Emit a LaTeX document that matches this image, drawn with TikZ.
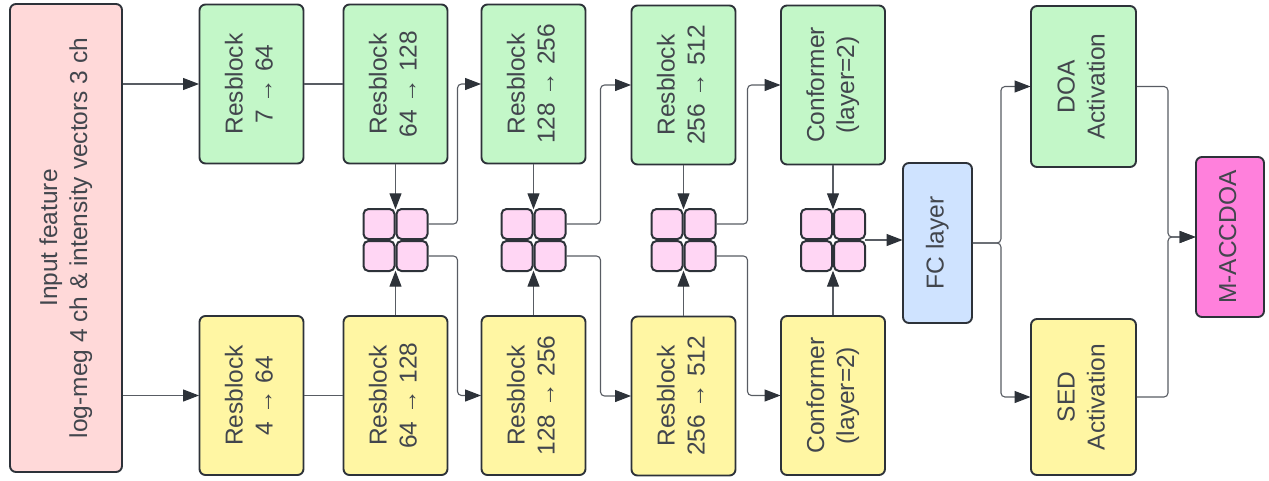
\documentclass[tikz,border=0pt]{standalone}
\usepackage{fontspec}
\setmainfont{Liberation Sans}
\usetikzlibrary{arrows.meta,calc}
\definecolor{edge}{HTML}{2D3239}
\definecolor{wire}{HTML}{585C63}
\definecolor{gfill}{HTML}{C3F7C8}
\definecolor{yfill}{HTML}{FFF6A3}
\definecolor{rfill}{HTML}{FFD9D9}
\definecolor{bfill}{HTML}{CFE3FF}
\definecolor{mfill}{HTML}{FF80DC}
\definecolor{qfill}{HTML}{FFD6F4}
% vertical two-line label
\newcommand\rottxt[1]{\rotatebox{90}{\begin{tabular}{@{}c@{}}#1\end{tabular}}}
% concatenation block made of four rounded squares
\newcommand\mergeblk[2]{%
  \node[mergebox] (#1) at (#2) {};
  \node[quad, anchor=south east] (#1-a) at (#1.center) {};
  \node[quad, anchor=south west] (#1-b) at (#1.center) {};
  \node[quad, anchor=north east] (#1-c) at (#1.center) {};
  \node[quad, anchor=north west] (#1-d) at (#1.center) {};
}
\begin{document}
\begin{tikzpicture}[x=1pt,y=-1pt,
  box/.style={draw=edge, line width=1.9pt, rounded corners=6pt, inner sep=0pt,
    font=\fontsize{24.5}{30}\selectfont, text=edge!90!white, align=center},
  blk/.style={box, minimum width=104, minimum height=159},
  gblk/.style={blk, fill=gfill},
  yblk/.style={blk, fill=yfill},
  quad/.style={draw=edge, line width=2pt, fill=qfill, rounded corners=5pt,
    minimum width=31, minimum height=30, inner sep=0pt},
  mergebox/.style={minimum width=64, minimum height=62, inner sep=0pt},
  wire/.style={draw=wire, line width=1.1pt, rounded corners=4pt},
  arr/.style={wire, -{Triangle[length=16pt,width=12pt,color=edge]}, shorten >=-0.5pt},
]
\useasboundingbox (0,0) rectangle (1269,480);
\coordinate (mid) at (0,240);

% input
\node[box, fill=rfill, minimum width=112, minimum height=468] (inp) at (66,238)
  {\rottxt{Input feature\\log-meg 4 ch \& intensity vectors 3 ch}};

% upper (green) branch
\node[gblk] (g1) at (251.5,84) {\rottxt{Resblock\\7 → 64}};
\node[gblk] (g2) at (395.5,84) {\rottxt{Resblock\\64 → 128}};
\node[gblk] (g3) at (533.5,84) {\rottxt{Resblock\\128 → 256}};
\node[gblk] (g4) at (683.5,85) {\rottxt{Resblock\\256 → 512}};
\node[gblk] (g5) at (833,85) {\rottxt{Conformer\\(layer=2)}};

% lower (yellow) branch
\node[yblk] (y1) at (251.5,395.5) {\rottxt{Resblock\\4 → 64}};
\node[yblk] (y2) at (395.5,395.5) {\rottxt{Resblock\\64 → 128}};
\node[yblk] (y3) at (533.5,395.5) {\rottxt{Resblock\\128 → 256}};
\node[yblk] (y4) at (683.5,396) {\rottxt{Resblock\\256 → 512}};
\node[yblk] (y5) at (833,395.5) {\rottxt{Conformer\\(layer=2)}};

% merge blocks
\mergeblk{m1}{g2 |- mid}
\mergeblk{m2}{g3 |- mid}
\mergeblk{m3}{g4 |- mid}
\mergeblk{m4}{g5 |- mid}

% heads
\node[box, fill=bfill, minimum width=69, minimum height=160] (fc) at (937.5,243) {\rottxt{FC layer}};
\node[gblk, minimum width=105, minimum height=161] (doa) at (1083.5,86.5) {\rottxt{DOA\\Activation}};
\node[yblk, minimum width=105, minimum height=156] (sed) at (1083.5,397) {\rottxt{SED\\Activation}};
\node[box, fill=mfill, minimum width=68, minimum height=160] (mac) at (1230,237) {\rottxt{M-ACCDOA}};

% input to both branches
\draw[arr] (inp.east |- g1) -- (g1.west);
\draw[arr] (inp.east |- y1) -- (y1.west);
\draw[wire] (g1) -- (g2);
\draw[wire] (y1) -- (y2);

% branches into merge blocks
\foreach \i/\m in {2/m1,3/m2,4/m3,5/m4}{
  \draw[arr] (g\i) -- (\m);
  \draw[arr] (y\i) -- (\m);
}
% merge outputs fan back to both branches
\draw[arr] (m1-b.east) -- ++(29,0) |- (g3.west);
\draw[arr] (m1-d.east) -- ++(29,0) |- (y3.west);
\draw[arr] (m2-b.east) -- ++(34,0) |- (g4.west);
\draw[arr] (m2-d.east) -- ++(34,0) |- (y4.west);
\draw[arr] (m3-b.east) -- ++(31,0) |- (g5.west);
\draw[arr] (m3-d.east) -- ++(31,0) |- (y5.west);

% heads
\draw[arr] (m4) -- (fc.west |- m4);
\draw[arr] (fc.east) -- ++(28,0) |- (doa.west);
\draw[arr] (fc.east) -- ++(28,0) |- (sed.west);
\draw[arr] (doa.east) -- ++(31,0) |- (mac.west);
\draw[arr] (sed.east) -- ++(31,0) |- (mac.west);
\end{tikzpicture}
\end{document}
